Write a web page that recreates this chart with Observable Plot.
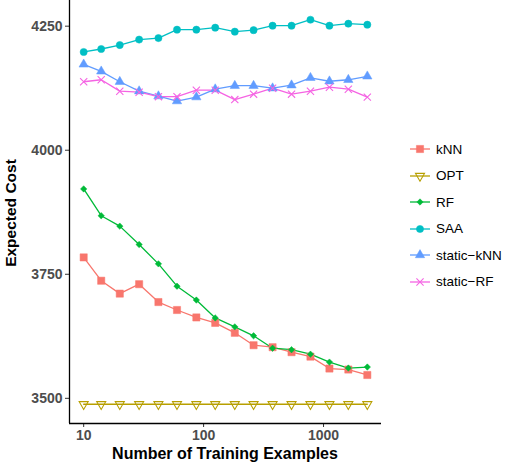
<!DOCTYPE html>
<html><head><meta charset="utf-8">
<script src="https://cdn.jsdelivr.net/npm/d3@7"></script>
<script src="https://cdn.jsdelivr.net/npm/@observablehq/plot@0.6"></script>
<style>
body{margin:0;background:#fff;font-family:"Liberation Sans",Arial,Helvetica,sans-serif;}
#wrap{position:relative;width:508px;height:469px;overflow:hidden;}
#legend{position:absolute;left:408px;top:136px;}
.item{display:flex;align-items:center;height:26.5px;font-size:13.5px;color:#000;}
.item svg{margin-right:4px;}
.xtitle{position:absolute;left:69px;width:312px;top:445px;text-align:center;font-weight:bold;font-size:16px;color:#000;}
.ytitle{position:absolute;left:11px;top:213px;transform:translate(-50%,-50%) rotate(-90deg);white-space:nowrap;font-weight:bold;font-size:15.5px;color:#000;}
</style></head><body><div id="wrap"></div>
<script>
const trainingSizes = [10,14,20,29,42,60,87,125,182,261,376,541,778,1120,1610,2318];
const seriesNames = ["kNN","OPT","RF","SAA","static-kNN","static-RF"];
const seriesLabels = ["kNN","OPT","RF","SAA","static\u2212kNN","static\u2212RF"];
const seriesColors = ["#F8766D","#B79F00","#00BA38","#00BFC4","#619CFF","#F564E3"];
const kNN = [3784,3737,3711,3730,3694,3678,3663,3652,3632,3607,3603,3593,3584,3560,3558,3547];
const OPT = [3488,3488,3488,3488,3488,3488,3488,3488,3488,3488,3488,3488,3488,3488,3488,3488];
const RF  = [3922,3868,3847,3810,3771,3726,3698,3662,3644,3626,3601,3598,3589,3573,3561,3563];
const SAA = [4198,4204,4212,4223,4226,4243,4243,4247,4239,4242,4251,4251,4263,4251,4255,4253];
const staticKNN = [4173,4159,4138,4119,4109,4099,4107,4123,4130,4130,4125,4131,4146,4139,4142,4149];
const staticRF  = [4138,4142,4119,4117,4108,4108,4121,4121,4102,4113,4125,4113,4119,4127,4123,4107];
const yTicks = [3500,3750,4000,4250];
const xTicks = [10,100,1000];

const seriesValues = [kNN, OPT, RF, SAA, staticKNN, staticRF];
const data = [];
seriesNames.forEach((s, i) => trainingSizes.forEach((n, j) => data.push({series: s, n, cost: seriesValues[i][j]})));

// custom symbols (r = sqrt(size/PI))
const sym = (fn) => ({draw(ctx, size){ fn(ctx, Math.sqrt(size/Math.PI)); }});
const triDown = sym((c, R) => { c.moveTo(0, R); c.lineTo(-R*0.866, -R/2); c.lineTo(R*0.866, -R/2); c.closePath(); });
const triUp = sym((c, R) => { c.moveTo(0, -R); c.lineTo(-R*0.866, R/2); c.lineTo(R*0.866, R/2); c.closePath(); });
const square = sym((c, R) => { c.rect(-R, -R, 2*R, 2*R); });
const diamond = sym((c, R) => { c.moveTo(0, -R); c.lineTo(R, 0); c.lineTo(0, R); c.lineTo(-R, 0); c.closePath(); });
const cross = sym((c, R) => { c.moveTo(-R, -R); c.lineTo(R, R); c.moveTo(-R, R); c.lineTo(R, -R); });
const circle = sym((c, R) => { c.moveTo(R, 0); c.arc(0, 0, R, 0, 2*Math.PI); });

const styles = {
  "kNN": {symbol: square, r: 3.6, fill: true},
  "OPT": {symbol: triDown, r: 5.2, fill: false},
  "RF": {symbol: diamond, r: 3.2, fill: true},
  "SAA": {symbol: circle, r: 3.6, fill: true},
  "static-kNN": {symbol: triUp, r: 5.4, fill: true},
  "static-RF": {symbol: cross, r: 3.6, fill: false}
};

const lx = trainingSizes.map(Math.log10);
const lxMin = d3.min(lx), lxMax = d3.max(lx), lxPad = 0.05*(lxMax - lxMin);
const xDomain = [10**(lxMin - lxPad), 10**(lxMax + lxPad)];
const allY = data.map(d => d.cost);
const yMin = d3.min(allY), yMax = d3.max(allY), yPad = 0.05*(yMax - yMin);
const yDomain = [yMin - yPad, yMax + yPad];

const marks = [];
seriesNames.forEach((s, i) => {
  marks.push(Plot.line(data.filter(d => d.series === s), {x: "n", y: "cost", stroke: seriesColors[i], strokeWidth: 1.3}));
});
seriesNames.forEach((s, i) => {
  const st = styles[s];
  marks.push(Plot.dot(data.filter(d => d.series === s), {
    x: "n", y: "cost", symbol: () => st.symbol, r: st.r,
    fill: st.fill ? seriesColors[i] : "none",
    stroke: seriesColors[i], strokeWidth: st.fill ? 0.5 : 1.1
  }));
});

const chart = Plot.plot({
  width: 508, height: 469,
  marginLeft: 69, marginRight: 127, marginTop: 0, marginBottom: 46,
  style: {fontFamily: "'Liberation Sans', Arial, sans-serif", background: "#fff"},
  x: {type: "log", domain: xDomain},
  y: {domain: yDomain},
  symbol: {type: "identity"},
  marks: [
    Plot.axisY(yTicks, {tickFormat: d3.format("d"), tickSize: 4, tickPadding: 3, fontSize: 14, fontWeight: "bold", fill: "#4d4d4d", stroke: "#333", label: null}),
    Plot.axisX(xTicks, {tickFormat: d3.format("d"), tickSize: 4, tickPadding: 3, fontSize: 14, fontWeight: "bold", fill: "#4d4d4d", stroke: "#333", label: null}),
    Plot.ruleX([xDomain[0]], {stroke: "#000", strokeWidth: 1.3}),
    Plot.ruleY([yDomain[0]], {stroke: "#000", strokeWidth: 1.3}),
    ...marks
  ]
});

const wrap = document.getElementById("wrap");
wrap.appendChild(chart);

const xt = document.createElement("div"); xt.className = "xtitle"; xt.textContent = "Number of Training Examples"; wrap.appendChild(xt);
const yt = document.createElement("div"); yt.className = "ytitle"; yt.textContent = "Expected Cost"; wrap.appendChild(yt);

// legend
const legend = document.createElement("div"); legend.id = "legend";
seriesNames.forEach((s, i) => {
  const item = document.createElement("div"); item.className = "item";
  const svg = d3.create("svg").attr("width", 24).attr("height", 20);
  svg.append("line").attr("x1", 2).attr("x2", 22).attr("y1", 10).attr("y2", 10).attr("stroke", seriesColors[i]).attr("stroke-width", 1.3);
  const st = styles[s];
  const p = d3.path(); st.symbol.draw(p, Math.PI*st.r*st.r);
  svg.append("path").attr("d", p.toString()).attr("transform", "translate(12,10)")
    .attr("fill", st.fill ? seriesColors[i] : "none").attr("stroke", seriesColors[i]).attr("stroke-width", st.fill ? 0.5 : 1.1);
  item.appendChild(svg.node());
  const t = document.createElement("span"); t.textContent = seriesLabels[i]; item.appendChild(t);
  legend.appendChild(item);
});
wrap.appendChild(legend);
</script></body></html>
